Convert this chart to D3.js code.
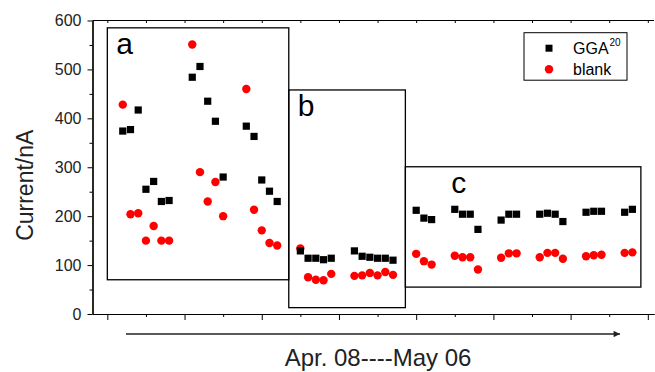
<!DOCTYPE html>
<html>
<head>
<meta charset="utf-8">
<script src="https://cdn.jsdelivr.net/npm/d3@7"></script>
<style>
  body { margin: 0; background: #fff; }
  svg { display: block; font-family: Arial, "Liberation Sans", sans-serif; }
</style>
</head>
<body>
<div id="container"><svg></svg></div>
<script>
let width = 655, height = 372;
let margin = {left: 92.5, right: 1, top: 20.5, bottom: 58};

// measurement index along the x axis (no labels shown)
let days = [2,3,4,5,6,7,8, 11,12,13,14,15, 18,19,20,21,22,
            25,26,27,28,29, 32,33,34,35,36,37,
            40,41,42, 45,46,47,48, 51,52,53, 56,57,58,59, 62,63,64, 67,68];
let gga = [374,377,417,255,271,230,232, 484,506,435,394,280, 384,363,274,251,230,
           129,114,114,111,114, 129,118,116,114,114,110,
           212,196,193, 214,204,204,173, 192,204,204, 204,206,204,189, 208,210,210, 208,214];
let blank = [428,204,206,150,180,150,150, 551,290,230,270,200, 460,213,171,145,140,
             134,75,70,69,82, 78,79,84,79,86,80,
             123,108,101, 119,116,116,91, 115,124,124, 116,125,125,113, 118,120,121, 125,126];
let boxNames = ['a','b','c'];
let boxX = [[0,23.5],[23.5,38.6],[38.6,69.1]];
let boxY = [[70,585],[13,458],[55,301]];
let yTicks = [0,100,200,300,400,500,600];
let seriesNames = ['GGA', 'blank'];

let svg = d3.select('#container').select('svg')
    .attr('width', width).attr('height', height);

let xScale = d3.scaleLinear().domain([-1.92, 70.8]).range([margin.left, width - margin.right]);
let yScale = d3.scaleLinear().domain([0, 600]).range([height - margin.bottom, margin.top]);

// frame
svg.append('line').attr('x1', xScale.range()[0]).attr('x2', xScale.range()[1])
    .attr('y1', margin.top).attr('y2', margin.top).attr('stroke', '#000').attr('stroke-width', 1);

// axes
let yAxis = svg.append('g').attr('transform', `translate(${margin.left},0)`)
    .call(d3.axisLeft(yScale).tickValues(yTicks).tickSize(5).tickPadding(6).tickSizeOuter(0));
let yMinor = svg.append('g').attr('transform', `translate(${margin.left},0)`)
    .call(d3.axisLeft(yScale).tickValues(d3.range(50, 600, 100)).tickSize(3).tickFormat('').tickSizeOuter(0));
let xAxis = svg.append('g').attr('transform', `translate(0,${yScale(0)})`)
    .call(d3.axisBottom(xScale).tickValues(d3.range(0, 71, 10)).tickSize(6).tickFormat('').tickSizeOuter(0));
let xMinor = svg.append('g').attr('transform', `translate(0,${yScale(0)})`)
    .call(d3.axisBottom(xScale).tickValues(d3.range(5, 71, 10)).tickSize(3).tickFormat('').tickSizeOuter(0));
let xTop = svg.append('g').attr('transform', `translate(0,${margin.top})`)
    .call(d3.axisBottom(xScale).tickValues(d3.range(0, 71, 5)).tickSize(2.5).tickFormat('').tickSizeOuter(0));
[yAxis, yMinor, xAxis, xMinor, xTop].forEach(g => {
    g.selectAll('path').attr('stroke', '#000').attr('stroke-width', 1.2);
    g.selectAll('line').attr('stroke', '#000').attr('stroke-width', 1);
});
xTop.select('path').remove();
yAxis.selectAll('text').attr('font-size', 16).attr('fill', '#222')
    .attr('font-family', 'Arial, "Liberation Sans", sans-serif');

// group boxes
let boxes = svg.append('g');
boxNames.forEach((name, i) => {
    boxes.append('rect')
        .attr('x', xScale(boxX[i][0])).attr('y', yScale(boxY[i][1]))
        .attr('width', xScale(boxX[i][1]) - xScale(boxX[i][0]))
        .attr('height', yScale(boxY[i][0]) - yScale(boxY[i][1]))
        .attr('fill', 'none').attr('stroke', '#000').attr('stroke-width', 1.3);
    boxes.append('text')
        .attr('x', xScale(boxX[i][0]) + (i == 2 ? 46 : 9))
        .attr('y', yScale(boxY[i][1]) + 26)
        .attr('font-size', 30).attr('fill', '#000')
        .text(name);
});

// points
let pts = svg.append('g');
pts.selectAll('circle').data(days).join('circle')
    .attr('cx', (d, i) => xScale(d)).attr('cy', (d, i) => yScale(blank[i]))
    .attr('r', 4.2).attr('fill', '#ff0000');
pts.selectAll('rect').data(days).join('rect')
    .attr('x', (d, i) => xScale(d) - 3.6).attr('y', (d, i) => yScale(gga[i]) - 3.6)
    .attr('width', 7.2).attr('height', 7.2).attr('fill', '#000');

// legend
let legend = svg.append('g').attr('transform', 'translate(524,32.7)');
legend.append('rect').attr('width', 103).attr('height', 47.5)
    .attr('fill', '#fff').attr('stroke', '#000').attr('stroke-width', 1);
legend.append('rect').attr('x', 21.5).attr('y', 12).attr('width', 7).attr('height', 7).attr('fill', '#000');
legend.append('circle').attr('cx', 25).attr('cy', 36.5).attr('r', 4.2).attr('fill', '#ff0000');
let t1 = legend.append('text').attr('x', 49).attr('y', 21.5).attr('font-size', 16).attr('fill', '#000');
t1.append('tspan').text(seriesNames[0]);
t1.append('tspan').attr('font-size', 10).attr('dy', -8).attr('dx', 1).text('20');
legend.append('text').attr('x', 49).attr('y', 42).attr('font-size', 16).attr('fill', '#000').text(seriesNames[1]);

// axis titles
svg.append('text')
    .attr('transform', `translate(33,${(yScale(0) + yScale(600)) / 2 + 18}) rotate(-90)`)
    .attr('text-anchor', 'middle').attr('font-size', 23).attr('fill', '#222')
    .text('Current/nA');

// direction arrow
svg.append('defs').append('marker').attr('id', 'arrow')
    .attr('viewBox', '0 0 10 10').attr('refX', 10).attr('refY', 5)
    .attr('markerWidth', 6).attr('markerHeight', 4).attr('orient', 'auto')
    .attr('markerUnits', 'strokeWidth')
    .append('path').attr('d', 'M0,0 L10,5 L0,10 z').attr('fill', '#222');
svg.append('line')
    .attr('x1', 126).attr('x2', 620).attr('y1', 334).attr('y2', 334)
    .attr('stroke', '#222').attr('stroke-width', 1.6).attr('marker-end', 'url(#arrow)');
svg.append('text')
    .attr('x', 378).attr('y', 366).attr('text-anchor', 'middle')
    .attr('font-size', 24).attr('fill', '#222')
    .text('Apr. 08----May 06');
</script>
</body>
</html>
